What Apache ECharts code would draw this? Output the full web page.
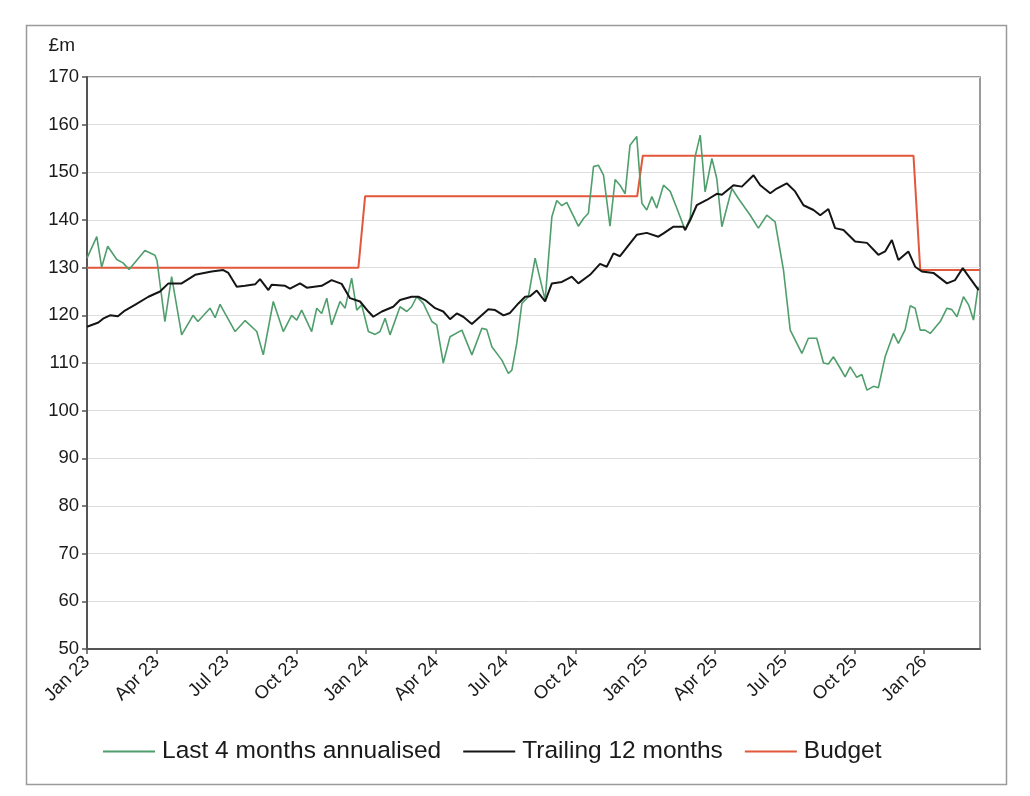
<!DOCTYPE html>
<html>
<head>
<meta charset="utf-8">
<script src="https://cdn.jsdelivr.net/npm/echarts@6/dist/echarts.min.js"></script>
<style>html,body{margin:0;padding:0;background:#fff}#c{width:1030px;height:796px}</style>
</head>
<body>
<div id="c"></div>
<script>
// x = months since Jan 23
const tickLabels = ['Jan 23','Apr 23','Jul 23','Oct 23','Jan 24','Apr 24','Jul 24','Oct 24','Jan 25','Apr 25','Jul 25','Oct 25','Jan 26'];
const tickMonths = [0,3,6,9,12,15,18,21,24,27,30,33,36];
const seriesNames = ['Last 4 months annualised','Trailing 12 months','Budget'];

const last4Months = [
[0,132],[0.42,136.5],[0.63,130.1],[0.89,134.5],[1.28,131.7],[1.55,131],[1.81,129.6],[2.49,133.6],[2.92,132.6],[3.01,131.5],
[3.35,118.7],[3.64,128.1],[4.07,115.9],[4.56,120],[4.77,118.7],[5.29,121.5],[5.51,119.5],[5.72,122.3],[6.37,116.6],[6.80,118.9],
[7.30,116.6],[7.58,111.7],[8.01,122.9],[8.44,116.6],[8.80,120],[9.02,119],[9.23,121.1],[9.66,116.6],[9.88,121.5],[10.09,120.4],
[10.31,123.6],[10.52,118],[10.88,122.9],[11.10,121.5],[11.38,127.8],[11.60,121.1],[11.81,122.2],[12.10,116.6],[12.39,116],[12.60,116.6],
[12.82,119.4],[13.03,115.9],[13.46,121.8],[13.75,120.8],[13.96,121.8],[14.18,123.9],[14.46,122.5],[14.83,118.7],[15.04,118],[15.32,110],
[15.61,115.5],[16.12,116.9],[16.55,111.7],[16.98,117.3],[17.19,117],[17.41,113.4],[17.84,110.6],[18.12,107.8],[18.27,108.5],[18.48,114.1],
[18.70,122.5],[18.98,123.9],[19.27,132],[19.70,123.2],[19.99,140.7],[20.20,144.1],[20.42,143],[20.63,143.7],[21.13,138.7],[21.35,140.3],
[21.56,141.4],[21.78,151.2],[21.99,151.5],[22.21,149.4],[22.49,138.7],[22.71,148.5],[22.92,147.3],[23.14,145.5],[23.35,155.7],[23.64,157.5],
[23.86,143.5],[24.07,142.1],[24.29,144.9],[24.50,142.5],[24.79,147.3],[25.08,146],[25.36,142.5],[25.72,137.9],[25.94,140.5],[26.15,153.3],
[26.37,157.8],[26.58,145.9],[26.87,152.9],[27.08,148.7],[27.30,138.6],[27.73,146.6],[28.01,144.5],[28.52,141],[28.87,138.3],[29.23,141],
[29.59,139.6],[29.95,129.5],[30.24,116.9],[30.74,112],[31.02,115.2],[31.38,115.2],[31.67,110],[31.88,109.8],[32.10,111.3],[32.39,108.9],
[32.60,107.1],[32.82,109.2],[33.10,107],[33.32,107.6],[33.54,104.3],[33.82,105.1],[34.03,104.8],[34.32,111.3],[34.68,116.2],[34.89,114.1],
[35.18,117],[35.40,122],[35.61,121.5],[35.83,116.9],[36.04,116.9],[36.26,116.2],[36.69,118.7],[36.98,121.5],[37.19,121.2],[37.41,119.7],
[37.69,123.9],[37.91,122.2],[38.12,119],[38.32,126]
];

const trailing12Months = [
[0,117.6],[0.49,118.5],[0.69,119.3],[0.99,120],[1.33,119.8],[1.63,121],[2.06,122.2],[2.64,123.9],[3.14,125],[3.50,126.7],
[4.07,126.7],[4.65,128.5],[5.36,129.2],[5.86,129.5],[6.08,128.9],[6.44,126],[6.80,126.2],[7.23,126.5],[7.44,127.6],[7.80,125.3],
[7.94,126.4],[8.52,126.2],[8.73,125.6],[9.16,126.7],[9.45,125.8],[10.09,126.2],[10.52,127.4],[10.95,126.6],[11.31,123.6],[11.74,122.9],
[12.10,120.8],[12.31,119.7],[12.68,120.8],[13.17,121.8],[13.46,123.2],[13.96,123.9],[14.25,123.9],[14.54,123.2],[14.97,121.5],[15.32,120.8],
[15.61,119.2],[15.90,120.4],[16.18,119.7],[16.55,118.2],[16.90,119.7],[17.26,121.3],[17.55,121.1],[17.91,120],[18.19,120.5],[18.55,122.5],
[18.84,123.9],[19.05,124],[19.34,125.2],[19.70,122.9],[19.99,126.7],[20.42,127],[20.85,128.1],[21.13,126.7],[21.63,128.5],[22.06,130.8],
[22.35,130.2],[22.64,133],[22.92,132.4],[23.35,135.1],[23.64,136.9],[24.07,137.3],[24.57,136.5],[24.79,137.2],[25.22,138.6],[25.65,138.6],
[25.72,137.9],[25.94,140],[26.22,143.1],[26.65,144.2],[27.08,145.5],[27.30,145.3],[27.80,147.3],[28.16,147],[28.66,149.4],[28.95,147.3],
[29.38,145.6],[29.66,146.6],[30.09,147.7],[30.45,146],[30.81,143.1],[31.24,142.1],[31.53,141],[31.88,142.3],[32.17,138.3],[32.53,137.9],
[33.03,135.5],[33.54,135.2],[34.03,132.7],[34.32,133.4],[34.61,135.8],[34.89,131.6],[35.32,133.4],[35.61,130.2],[35.90,129.2],[36.40,128.9],
[36.98,126.7],[37.33,127.4],[37.66,129.9],[37.85,128.6],[38.34,125.3]
];

const budget = [
[0,130],[11.67,130],[11.96,145],[23.66,145],[23.9,153.5],[35.54,153.5],[35.83,129.5],[38.4,129.5]
];

const font = '"Liberation Sans", Arial, sans-serif';
const chart = echarts.init(document.getElementById('c'));
chart.setOption({
  animation: false,
  backgroundColor: '#fff',
  graphic: [{
    type: 'rect', left: 24, top: 23, shape: {width: 980, height: 759},
    style: {fill: 'none', stroke: '#9a9a9a', lineWidth: 1.5}, z: 0
  }],
  grid: {left: 87, right: 50, top: 77, bottom: 147, show: true, borderColor: '#7a7a7a', borderWidth: 1.5},
  legend: {
    left: 98, top: 734,
    itemWidth: 52, itemHeight: 2, itemGap: 22, icon: 'rect',
    textStyle: {fontFamily: font, fontSize: 24.5, color: '#1a1a1a', padding: [0, 0, 0, 2]},
    data: seriesNames
  },
  xAxis: {
    type: 'value', min: 0, max: 38.4, interval: 3,
    axisLine: {show: true, lineStyle: {color: '#555', width: 2}},
    axisTick: {show: true, length: 5, customValues: tickMonths, lineStyle: {color: '#555', width: 1.5}},
    splitLine: {show: false},
    axisLabel: {
      rotate: 45, margin: 10, fontFamily: font, fontSize: 18.5, color: '#1a1a1a',
      customValues: tickMonths,
      formatter: v => tickLabels[tickMonths.indexOf(Math.round(v))] || ''
    }
  },
  yAxis: {
    type: 'value', min: 50, max: 170, interval: 10,
    name: '£m', nameLocation: 'end', nameGap: 22,
    nameTextStyle: {fontFamily: font, fontSize: 19, color: '#1a1a1a', align: 'right', padding: [0, 12, 0, 0]},
    axisLine: {show: true, lineStyle: {color: '#555', width: 2}},
    axisTick: {show: true, length: 5, lineStyle: {color: '#555', width: 1.5}},
    splitLine: {show: true, lineStyle: {color: '#dedede', width: 1}},
    axisLabel: {margin: 8, fontFamily: font, fontSize: 18.5, color: '#1a1a1a'}
  },
  series: [
    {name: seriesNames[0], type: 'line', data: last4Months, showSymbol: false, symbol: 'none',
     lineStyle: {color: '#4f9e6c', width: 1.6}, itemStyle: {color: '#4f9e6c'}, z: 3},
    {name: seriesNames[1], type: 'line', data: trailing12Months, showSymbol: false, symbol: 'none',
     lineStyle: {color: '#151515', width: 2}, itemStyle: {color: '#151515'}, z: 4},
    {name: seriesNames[2], type: 'line', data: budget, showSymbol: false, symbol: 'none',
     lineStyle: {color: '#e2583a', width: 2}, itemStyle: {color: '#e2583a'}, z: 2}
  ]
});
</script>
</body>
</html>
